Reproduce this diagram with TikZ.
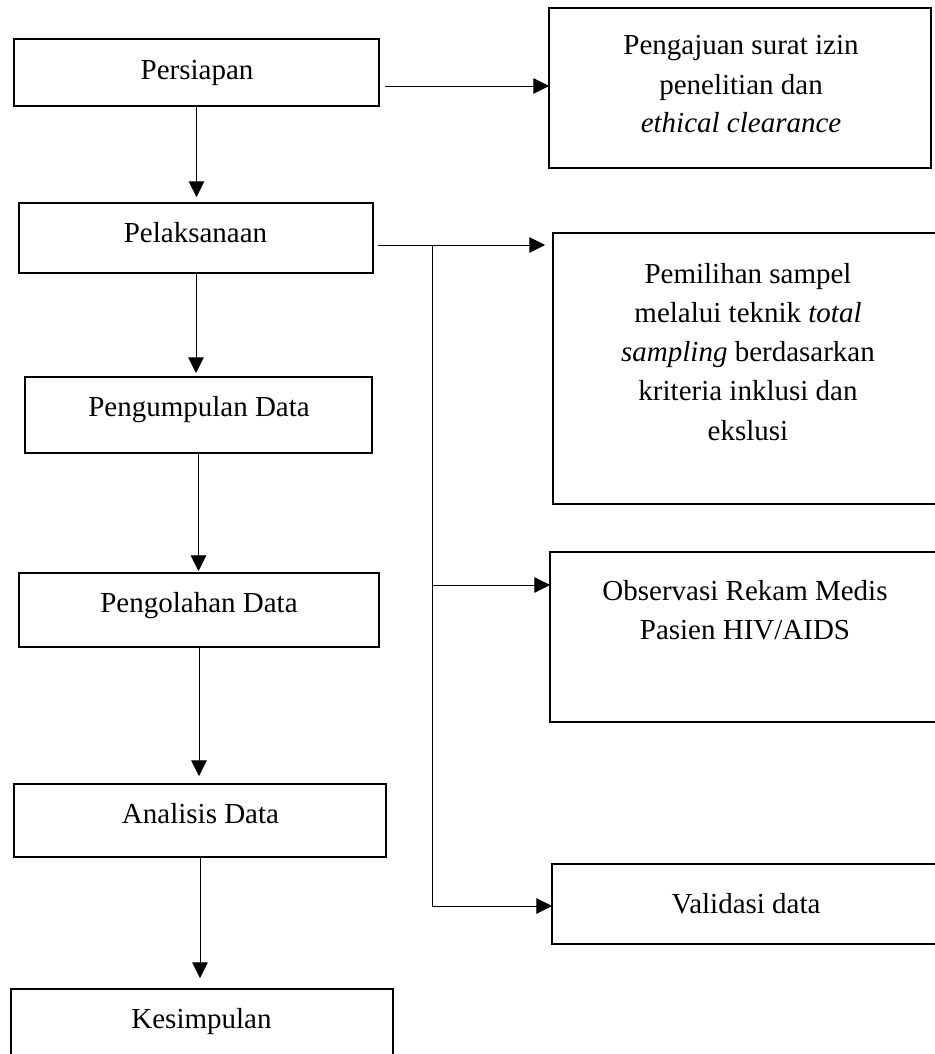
\documentclass[tikz,border=0pt]{standalone}
\usepackage{fontspec}
\setmainfont{Liberation Serif}
\usetikzlibrary{arrows.meta,calc}
\begin{document}
\begin{tikzpicture}[x=0.5pt,y=-0.5pt,
  box/.style={draw=black,line width=0.75pt,inner sep=0pt,outer sep=0pt,rectangle},
  txt/.style={anchor=base,inner sep=0pt,font=\fontsize{14.5pt}{19.7pt}\selectfont},
  conn/.style={draw=black,line width=0.45pt},
  arr/.style={conn,-{Triangle[length=7.8pt,width=7.8pt]}}]
\useasboundingbox (0,0) rectangle (935,1054);
% left column boxes
\node[box,minimum width=182.5pt,minimum height=33.5pt] (persiapan) at (196.5,72.5) {};
\node[box,minimum width=177pt,minimum height=35pt] (pelaksanaan) at (196,238) {};
\node[box,minimum width=173.5pt,minimum height=38pt] (pengumpulan) at (198.5,415) {};
\node[box,minimum width=180pt,minimum height=37pt] (pengolahan) at (199,610) {};
\node[box,minimum width=186pt,minimum height=36.5pt] (analisis) at (200,820.5) {};
\node[box,minimum width=191pt,minimum height=40.5pt] (kesimpulan) at (202,1029.5) {};
% right column boxes
\node[box,minimum width=191pt,minimum height=80pt] (pengajuan) at (740,88) {};
\node[box,minimum width=196pt,minimum height=135.5pt] (pemilihan) at (749,368.5) {};
\node[box,minimum width=197.5pt,minimum height=85pt] (observasi) at (747.5,637) {};
\node[box,minimum width=196.5pt,minimum height=40pt] (validasi) at (748.5,904) {};
% texts
\node[txt] (tpersiapan) at (197,80) {Persiapan};
\node[txt] (tpelaksanaan) at (195.5,242) {Pelaksanaan};
\node[txt] (tpengumpulan) at (199,416) {Pengumpulan Data};
\node[txt] (tpengolahan) at (199,612) {Pengolahan Data};
\node[txt] (tanalisis) at (200.5,823) {Analisis Data};
\node[txt] (tkesimpulan) at (201.5,1028) {Kesimpulan};
\node[txt] (tpengajuanA) at (741,55) {Pengajuan surat izin};
\node[txt] (tpengajuanB) at (741,95) {penelitian dan};
\node[txt] (tpengajuanC) at (741,133) {\itshape ethical clearance};
\node[txt] (tpemilihanA) at (748,283) {Pemilihan sampel};
\node[txt] (tpemilihanB) at (748,322) {melalui teknik \textit{total}};
\node[txt] (tpemilihanC) at (748,361) {\textit{sampling} berdasarkan};
\node[txt] (tpemilihanD) at (748,400) {kriteria inklusi dan};
\node[txt] (tpemilihanE) at (748,440) {ekslusi};
\node[txt] (tobservasiA) at (745,600) {Observasi Rekam Medis};
\node[txt] (tobservasiB) at (745,639) {Pasien HIV/AIDS};
\node[txt] (tvalidasi) at (746,913) {Validasi data};
% vertical arrows
\draw[arr] (persiapan.south) -- ($(persiapan.south |- pelaksanaan.north)+(0,-6)$);
\draw[arr] (pelaksanaan.south) -- ($(pelaksanaan.south |- pengumpulan.north)+(0,-4)$);
\draw[arr] (pengumpulan.south) -- ($(pengumpulan.south |- pengolahan.north)+(0,-2)$);
\draw[arr] (pengolahan.south) -- ($(pengolahan.south |- analisis.north)+(0,-8)$);
\draw[arr] (analisis.south) -- ($(analisis.south |- kesimpulan.north)+(0,-11)$);
% horizontal connectors
\coordinate (pstart) at ($(persiapan.east)+(6,13.5)$);
\draw[arr] (pstart) -- (pengajuan.west |- pstart);
\coordinate (jtop) at (432,245);
\coordinate (jobs) at (432,585);
\coordinate (jval) at (432,906);
\draw[arr] ($(pelaksanaan.east |- jtop)+(5,0)$) -- ($(pemilihan.west |- jtop)+(-8,0)$);
\draw[conn] (jtop) -- (jval);
\draw[arr] (jobs) -- (observasi.west |- jobs);
\draw[arr] (jval) -- (validasi.west |- jval);
\end{tikzpicture}
\end{document}
